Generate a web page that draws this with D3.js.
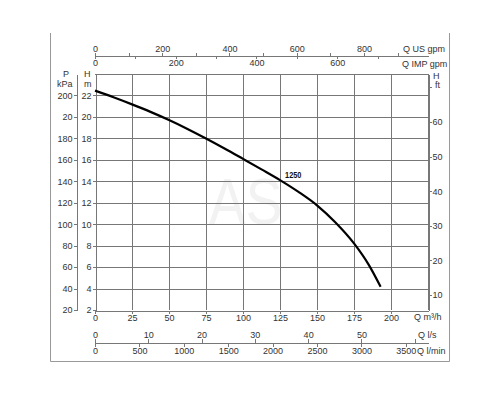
<!DOCTYPE html>
<html>
<head>
<meta charset="utf-8">
<script src="https://cdn.jsdelivr.net/npm/d3@7"></script>
<style>
  body { margin: 0; background: #fff; }
  svg text { font-family: "Liberation Sans", Arial, sans-serif; fill: #333; }
  .axis path, .axis line { stroke: #777; shape-rendering: crispEdges; }
  .axis text { font-size: 9px; fill: #333; }
</style>
</head>
<body>
<div id="chart-area"></div>
<script>
/* data */
const flowM3h = [0, 12.5, 25, 37.5, 50, 62.5, 75, 87.5, 100, 112.5, 125, 137.5, 150, 162.5, 175, 185, 193];
const headM = [22.45, 21.83, 21.17, 20.47, 19.71, 18.88, 17.99, 17.06, 16.09, 15.11, 14.11, 13.01, 11.76, 10.16, 8.21, 6.21, 4.16];
const curveName = "1250";

const hTicks = [2, 4, 6, 8, 10, 12, 14, 16, 18, 20, 22];
const pLabels = ["20", "40", "60", "80", "100", "120", "140", "160", "180", "20", "200"];
const ftTicks = [10, 20, 30, 40, 50, 60, 70];
const qTicks = [0, 25, 50, 75, 100, 125, 150, 175, 200];
const usGpmTicks = [0, 100, 200, 300, 400, 500, 600, 700, 800, 900];
const impGpmTicks = [0, 100, 200, 300, 400, 500, 600, 700];
const lsTicks = [0, 10, 20, 30, 40, 50, 60];
const lminTicks = [0, 500, 1000, 1500, 2000, 2500, 3000, 3500];

/* graphical constants */
const W = 500, H = 400;
const plot = { left: 95, right: 428, top: 74, bottom: 310 };

const svg = d3.select("#chart-area")
    .append("svg")
    .attr("width", W)
    .attr("height", H);

// scales (all flow scales share the same pixel range)
const x = d3.scaleLinear().domain([0, 225]).range([plot.left, plot.right]);
const y = d3.scaleLinear().domain([2, 24]).range([plot.bottom, plot.top]);
const yFt = d3.scaleLinear().domain([5.66, 73.9]).range([plot.bottom, plot.top]);
const xUs = d3.scaleLinear().domain([0, 225 * 4.4029]).range([plot.left, plot.right]);
const xImp = d3.scaleLinear().domain([0, 225 * 3.6662]).range([plot.left, plot.right]);
const xLs = d3.scaleLinear().domain([0, 225 / 3.6]).range([plot.left, plot.right]);
const xLmin = d3.scaleLinear().domain([0, 225 * 1000 / 60]).range([plot.left, plot.right]);

// outer frame (open at the top)
svg.append("path")
    .attr("d", "M50.5,33V361.5H449.5V33")
    .attr("fill", "none")
    .attr("stroke", "#999");

// watermark
svg.append("text")
    .attr("transform", "translate(209,224) scale(0.86,1)")
    .style("font-size", "64px")
    .style("fill", "#f2f2f2")
    .text("AS");

// grid
const grid = svg.append("g").attr("stroke", "#777").attr("shape-rendering", "crispEdges");
grid.selectAll(".hline")
    .data(d3.range(4, 25, 2))
    .enter().append("line")
    .attr("x1", plot.left).attr("x2", plot.right)
    .attr("y1", d => Math.round(y(d)) + 0.5).attr("y2", d => Math.round(y(d)) + 0.5);
grid.selectAll(".vline")
    .data(d3.range(25, 226, 25))
    .enter().append("line")
    .attr("y1", plot.top).attr("y2", plot.bottom)
    .attr("x1", d => Math.round(x(d)) + 0.5).attr("x2", d => Math.round(x(d)) + 0.5);

// H m axis (left of plot)
svg.append("g")
    .attr("class", "axis")
    .attr("transform", "translate(" + (plot.left + 0.5) + ",0)")
    .call(d3.axisLeft(y).tickValues(hTicks).tickSize(3).tickSizeOuter(0).tickPadding(1));

// P kPa axis
svg.append("g")
    .attr("class", "axis")
    .attr("transform", "translate(76.5,0)")
    .call(d3.axisLeft(y).tickValues(hTicks).tickSize(3).tickSizeOuter(0).tickPadding(1)
        .tickFormat((d, i) => pLabels[i]));

// H ft axis (right)
svg.append("g")
    .attr("class", "axis")
    .attr("transform", "translate(" + (plot.right + 0.5) + ",0)")
    .call(d3.axisRight(yFt).tickValues(ftTicks).tickSize(3).tickSizeOuter(0).tickPadding(1)
        .tickFormat(d => d === 70 ? "" : d));

// Q m3/h axis (bottom of plot)
svg.append("g")
    .attr("class", "axis")
    .attr("transform", "translate(0," + (plot.bottom + 0.5) + ")")
    .call(d3.axisBottom(x).tickValues(qTicks).tickSize(3).tickSizeOuter(0).tickPadding(1));

// top: US gpm above, IMP gpm below
svg.append("g")
    .attr("class", "axis")
    .attr("transform", "translate(0,55.5)")
    .call(d3.axisTop(xUs).tickValues(usGpmTicks).tickSize(3).tickSizeOuter(0).tickPadding(1)
        .tickFormat(d => d % 200 === 0 ? d : ""));
svg.append("g")
    .attr("class", "axis")
    .attr("transform", "translate(0,55.5)")
    .call(d3.axisBottom(xImp).tickValues(impGpmTicks).tickSize(3).tickSizeOuter(0).tickPadding(1)
        .tickFormat(d => d % 200 === 0 ? d : ""));

// bottom: l/s above, l/min below
svg.append("g")
    .attr("class", "axis")
    .attr("transform", "translate(0,342.5)")
    .call(d3.axisTop(xLs).tickValues(lsTicks).tickSize(4).tickSizeOuter(0).tickPadding(1)
        .tickFormat(d => d === 60 ? "" : d));
svg.append("g")
    .attr("class", "axis")
    .attr("transform", "translate(0,342.5)")
    .call(d3.axisBottom(xLmin).tickValues(lminTicks).tickSize(4).tickSizeOuter(0).tickPadding(1)
        .tickFormat(d => d));

// unit labels
const units = [
    { t: "Q US gpm", x: 403, y: 52 },
    { t: "Q IMP gpm", x: 402, y: 67 },
    { t: "P", x: 63, y: 77 },
    { t: "kPa", x: 57, y: 87 },
    { t: "H", x: 84, y: 77 },
    { t: "m", x: 84, y: 87 },
    { t: "H", x: 433, y: 79 },
    { t: "ft", x: 435, y: 88 },
    { t: "Q m³/h", x: 414, y: 320 },
    { t: "Q l/s", x: 418, y: 338 },
    { t: "Q l/min", x: 417, y: 354 }
];
svg.selectAll(".unit")
    .data(units)
    .enter().append("text")
    .attr("x", d => d.x)
    .attr("y", d => d.y)
    .style("font-size", "9px")
    .text(d => d.t);

// pump curve
const pts = flowM3h.map((q, i) => [q, headM[i]]);
svg.append("path")
    .datum(pts)
    .attr("fill", "none")
    .attr("stroke", "#000")
    .attr("stroke-width", 2.2)
    .attr("d", d3.line().x(d => x(d[0])).y(d => y(d[1])).curve(d3.curveMonotoneX));

svg.append("text")
    .attr("transform", "translate(" + x(128.4) + "," + y(14.3) + ") scale(0.82,1)")
    .style("font-size", "9px")
    .style("font-weight", "bold")
    .style("fill", "#111")
    .text(curveName);
</script>
</body>
</html>
